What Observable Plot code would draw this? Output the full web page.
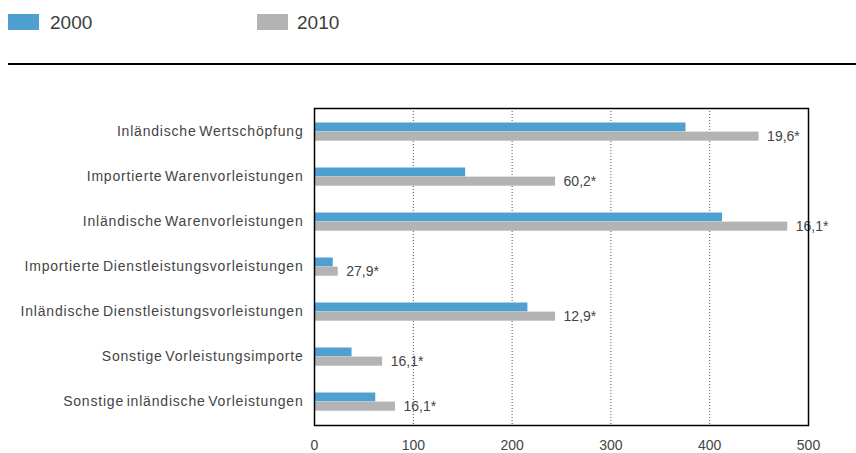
<!DOCTYPE html>
<html>
<head>
<meta charset="utf-8">
<script src="https://cdn.jsdelivr.net/npm/d3@7"></script>
<script src="https://cdn.jsdelivr.net/npm/@observablehq/plot@0.6"></script>
<style>
  body { margin: 0; background: #fff; font-family: "Liberation Sans", Arial, sans-serif; }
  #wrap { width: 856px; height: 453px; position: relative; overflow: hidden; }
  #legend { position: relative; height: 70px; }
  .sw { position: absolute; top: 14px; width: 31px; height: 16px; }
  .lt { position: absolute; top: 11px; font-size: 19px; line-height: 24px; color: #3d3d3d; }
  #rule { position: absolute; top: 63px; left: 8px; right: 0; height: 1.5px; background: #000; }
  svg { display: block; }
  g[aria-label="y-axis tick label"] text { letter-spacing: 0.8px; word-spacing: -2px; }
</style>
</head>
<body>
<div id="wrap">
  <div id="legend">
    <div class="sw" style="left:8px;background:#4f9fd1"></div>
    <div class="lt" style="left:50px">2000</div>
    <div class="sw" style="left:257px;background:#b3b3b3"></div>
    <div class="lt" style="left:297px">2010</div>
    <div id="rule"></div>
  </div>
  <div id="chart"></div>
</div>
<script>
const categories = [
  "Inländische Wertschöpfung",
  "Importierte Warenvorleistungen",
  "Inländische Warenvorleistungen",
  "Importierte Dienstleistungsvorleistungen",
  "Inländische Dienstleistungsvorleistungen",
  "Sonstige Vorleistungsimporte",
  "Sonstige inländische Vorleistungen"
];
const values2000 = [376, 153, 413, 19, 216, 38, 62];
const values2010 = [450, 244, 479, 24, 244, 69, 82];
const labels2010 = ["19,6*", "60,2*", "16,1*", "27,9*", "12,9*", "16,1*", "16,1*"];
const xTicks = [0, 100, 200, 300, 400, 500];
const gridTicks = [100, 200, 300, 400];

const rows = categories.map((c, i) => ({
  category: c,
  v2000: values2000[i],
  v2010: values2010[i],
  label: labels2010[i]
}));

const chart = Plot.plot({
  width: 856,
  height: 383,
  marginLeft: 314,
  marginRight: 48,
  marginTop: 38,
  marginBottom: 28,
  style: { fontFamily: "'Liberation Sans', Arial, sans-serif", fontSize: "14px", color: "#444", background: "#fff", overflow: "visible" },
  x: { domain: [0, 500], ticks: xTicks, tickSize: 0, tickPadding: 15, label: null, tickFormat: d => String(d) },
  y: { domain: categories, padding: 0, tickSize: 0, tickPadding: 11, label: null },
  marks: [
    Plot.ruleX(gridTicks, { stroke: "#555", strokeDasharray: "1,2", strokeWidth: 1 }),
    Plot.barX(rows, { x: "v2000", y: "category", fill: "#4f9fd1", insetTop: 13.5, insetBottom: 22.6 }),
    Plot.barX(rows, { x: "v2010", y: "category", fill: "#b3b3b3", insetTop: 22.6, insetBottom: 13.3 }),
    Plot.text(rows, { x: "v2010", y: "category", text: "label", dx: 8, dy: 4.7, textAnchor: "start", fill: "#444", fontSize: 14 }),
    Plot.frame({ stroke: "#000", strokeWidth: 1.5 })
  ]
});
document.getElementById("chart").appendChild(chart);
</script>
</body>
</html>
